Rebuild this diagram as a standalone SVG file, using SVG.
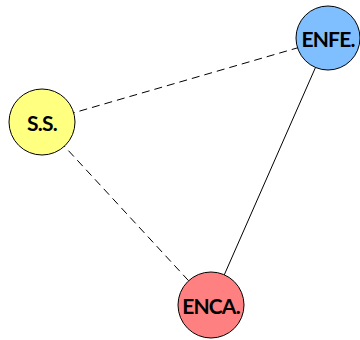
<svg xmlns="http://www.w3.org/2000/svg" width="360" height="340" viewBox="0 0 360 340">
<style>
.node circle{stroke:#000;stroke-width:1}
.node text{font-family:"Lato","Open Sans",sans-serif;font-weight:bold;font-size:21px;text-anchor:middle;dominant-baseline:central;fill:#000;letter-spacing:-0.8px}
.edge{stroke:#000;stroke-width:1;fill:none}
.dash{stroke-dasharray:8,5}
</style>
<rect width="360" height="340" fill="#fff"/>
<g id="edges">
<line class="edge dash" x1="42" y1="122" x2="328" y2="39"/>
<line class="edge dash" x1="42" y1="122" x2="211" y2="305"/>
<line class="edge" x1="328" y1="39" x2="211" y2="305"/>
</g>
<g id="ss" class="node"><circle cx="42" cy="122" r="33" fill="#ffff80"/><text x="42" y="122">S.S.</text></g>
<g id="enfe" class="node"><circle cx="328" cy="38" r="32" fill="#80bfff"/><text x="328" y="38">ENFE.</text></g>
<g id="enca" class="node"><circle cx="211" cy="305" r="33" fill="#ff8080"/><text x="211" y="305">ENCA.</text></g>
</svg>
